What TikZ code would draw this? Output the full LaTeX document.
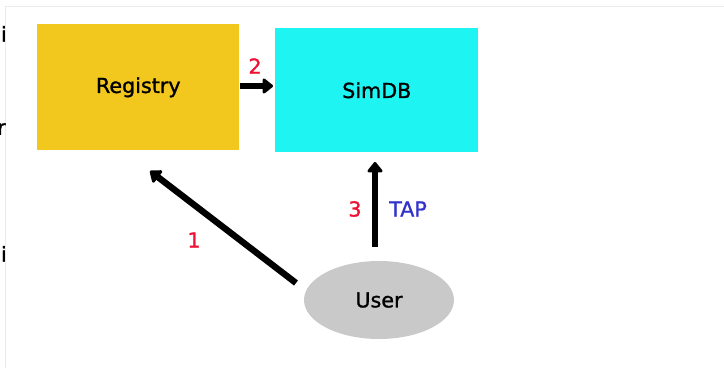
\documentclass[tikz,border=0pt]{standalone}
\usepackage{fontspec}
\setmainfont{DejaVu Sans}[FakeBold=1.2]
\usetikzlibrary{arrows.meta,shapes.geometric}
\definecolor{regyellow}{HTML}{F2C81F}
\definecolor{simcyan}{HTML}{1EF4F2}
\definecolor{usergray}{HTML}{C9C9C9}
\definecolor{steplabel}{HTML}{EE1133}
\definecolor{taplabel}{HTML}{3333CC}
\definecolor{framegray}{HTML}{EBEBEB}
\tikzset{
  x=0.75pt, y=-0.75pt,
  every node/.style={font=\fontsize{15.5}{18}\selectfont},
  box/.style={draw=none, inner sep=0pt, anchor=north west},
  flow/.style={line width=4.8pt, -{Triangle[length=8.5pt,width=13pt,round]}},
  num/.style={text=steplabel},
}
\begin{document}
\begin{tikzpicture}
\useasboundingbox (0,0) rectangle (724,368);
\clip (0,0) rectangle (724,368);
% page frame
\draw[framegray, line width=1pt] (5.5,368) -- (5.5,6.5) -- (724,6.5);
% neighbouring text cut off at the left edge
\node[anchor=east, inner sep=0pt] (cutA) at (7,36) {pi};
\node[anchor=east, inner sep=0pt] (cutB) at (6,129) {r};
\node[anchor=east, inner sep=0pt] (cutC) at (7,254) {Si};
% components
\node[box, fill=regyellow, minimum width=202*0.75pt, minimum height=126*0.75pt] (reg) at (37,24) {};
\node (regtxt) at (reg.center) {Registry};
\node[box, fill=simcyan, minimum width=203*0.75pt, minimum height=124*0.75pt] (sim) at (275,28) {};
\node (simtxt) at (sim.center) {SimDB};
\node[ellipse, fill=usergray, minimum width=150*0.75pt, minimum height=78*0.75pt, inner sep=0pt] (user) at (379,300) {User};
% connectors
\coordinate (a2s) at (240,86);
\coordinate (a2e) at (273,86);
\draw[flow] (a2s) -- (a2e);
\coordinate (a3s) at (375,247);
\coordinate (a3e) at (375,162);
\draw[flow] (a3s) -- (a3e);
\coordinate (a1s) at (296,283);
\coordinate (a1e) at (150,171);
\draw[flow] (a1s) -- (a1e);
% step labels
\node[num] (n2) at (255,66) {2};
\node[num] (n3) at (355,209) {3};
\node[text=taplabel] (tap) at (408,209) {TAP};
\node[num] (n1) at (194,240) {1};
\end{tikzpicture}
\end{document}
